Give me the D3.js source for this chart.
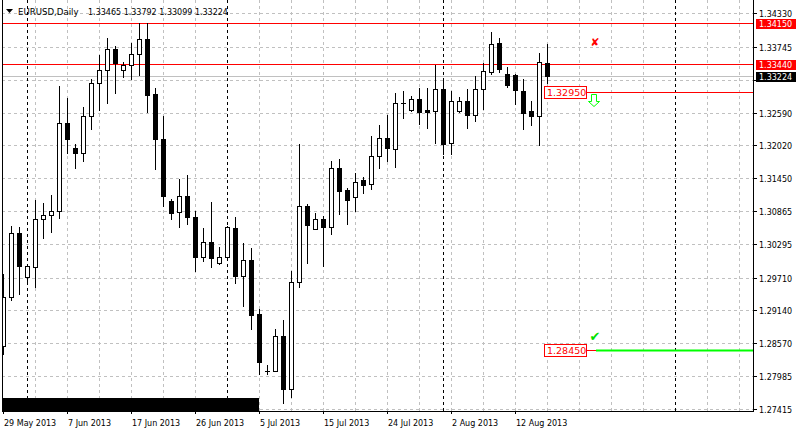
<!DOCTYPE html>
<html><head><meta charset="utf-8">
<script src="https://cdn.jsdelivr.net/npm/d3@7"></script>
<style>body{margin:0;background:#fff}svg{display:block}text{font-family:"DejaVu Sans",sans-serif}</style>
</head><body><svg id="c" width="796" height="430"></svg>
<script>
// ---------- data ----------
const symbolTitle = "EURUSD,Daily";
const lastBarInfo = ["1.33465", "1.33792", "1.33099", "1.33224"];
const dates = ["2013-05-29","2013-05-30","2013-05-31","2013-06-02","2013-06-03","2013-06-04","2013-06-05","2013-06-06","2013-06-07","2013-06-09",
"2013-06-10","2013-06-11","2013-06-12","2013-06-13","2013-06-14","2013-06-16","2013-06-17","2013-06-18","2013-06-19","2013-06-20",
"2013-06-21","2013-06-23","2013-06-24","2013-06-25","2013-06-26","2013-06-27","2013-06-28","2013-06-30","2013-07-01","2013-07-02",
"2013-07-03","2013-07-04","2013-07-05","2013-07-07","2013-07-08","2013-07-09","2013-07-10","2013-07-11","2013-07-12","2013-07-14",
"2013-07-15","2013-07-16","2013-07-17","2013-07-18","2013-07-19","2013-07-21","2013-07-22","2013-07-23","2013-07-24","2013-07-25",
"2013-07-26","2013-07-28","2013-07-29","2013-07-30","2013-07-31","2013-08-01","2013-08-02","2013-08-04","2013-08-05","2013-08-06",
"2013-08-07","2013-08-08","2013-08-09","2013-08-11","2013-08-12","2013-08-13","2013-08-14","2013-08-15","2013-08-16"];
const open = [1.28515,1.29371,1.30488,1.29720,1.29895,1.30733,1.30803,1.30873,1.32409,1.31973,
1.31885,1.32531,1.33108,1.33335,1.33701,1.33335,1.33422,1.33614,1.33876,1.32916,
1.32130,1.31047,1.30855,1.31134,1.30768,1.30069,1.30331,1.29965,1.30069,1.30576,
1.29738,1.30017,1.29074,1.28080,1.28079,1.28690,1.27764,1.29633,1.30960,1.30558,
1.30733,1.30593,1.31623,1.31239,1.31117,1.31414,1.31344,1.31833,1.32147,1.31955,
1.32755,1.32636,1.32828,1.32636,1.32619,1.33003,1.32060,1.32619,1.32793,1.32549,
1.33003,1.33300,1.33806,1.33265,1.33247,1.32968,1.32619,1.32531,1.33465];
const high = [1.29772,1.30611,1.30593,1.29947,1.31065,1.31012,1.31152,1.33055,1.32846,1.32042,
1.32689,1.33178,1.33597,1.33893,1.33754,1.33474,1.33806,1.34155,1.34150,1.33020,
1.32531,1.31082,1.31431,1.31501,1.30873,1.30576,1.31030,1.30244,1.30611,1.30768,
1.30314,1.30226,1.29161,1.28183,1.28812,1.28969,1.29825,1.32042,1.30995,1.30838,
1.30785,1.31746,1.31781,1.31274,1.31536,1.31466,1.32182,1.32374,1.32549,1.32933,
1.32968,1.32881,1.33020,1.33020,1.33422,1.33143,1.32968,1.32863,1.33003,1.33230,
1.33457,1.33998,1.33893,1.33387,1.33265,1.33178,1.32793,1.33632,1.33792];
const low = [1.28376,1.29318,1.29423,1.29633,1.29545,1.30401,1.30506,1.30750,1.31885,1.31623,
1.31746,1.32304,1.32636,1.32758,1.32933,1.33212,1.33178,1.33247,1.32601,1.31606,
1.30960,1.30733,1.30593,1.30646,1.29825,1.29999,1.29895,1.29947,1.30052,1.29615,
1.29214,1.28812,1.28026,1.28026,1.28070,1.27520,1.27625,1.29545,1.29965,1.30550,
1.29912,1.30471,1.30820,1.30646,1.30873,1.31187,1.31257,1.31623,1.31746,1.31641,
1.32497,1.32619,1.32392,1.32322,1.32060,1.31868,1.31868,1.32601,1.32322,1.32444,
1.32654,1.33265,1.33300,1.33038,1.32741,1.32304,1.32374,1.32025,1.33099];
const close = [1.29371,1.30488,1.29912,1.29912,1.30733,1.30803,1.30873,1.32409,1.32130,1.31885,
1.32531,1.33108,1.33335,1.33701,1.33457,1.33422,1.33614,1.33876,1.32898,1.32130,
1.31134,1.30838,1.31134,1.30768,1.30069,1.30331,1.30052,1.30069,1.30593,1.29738,
1.30017,1.29057,1.28236,1.28078,1.28690,1.27764,1.29633,1.30960,1.30628,1.30733,
1.30593,1.31623,1.31222,1.31065,1.31379,1.31327,1.31833,1.32147,1.31973,1.32758,
1.32760,1.32828,1.32601,1.32601,1.33003,1.32042,1.32793,1.32793,1.32549,1.33003,
1.33317,1.33789,1.33352,1.33073,1.32985,1.32584,1.32531,1.33474,1.33224];
const priceTicks = [1.34330,1.33745,1.33160,1.32590,1.32020,1.31450,1.30865,1.30295,1.29710,1.29140,1.28570,1.27985,1.27415];
const timeTickIdx = [0,8,16,24,32,40,48,56,64];
const timeTickLabels = ["29 May 2013","7 Jun 2013","17 Jun 2013","26 Jun 2013","5 Jul 2013","15 Jul 2013","24 Jul 2013","2 Aug 2013","12 Aug 2013"];
const monthSepIdx = [3,28,55,84];
const redLevels = [1.34150, 1.33440];
const bidPrice = 1.33224;
const takeProfit1 = 1.32950;
const takeProfit2 = 1.28450;
const blackBandIdx = [0, 32];

// ---------- scales ----------
const L = 2, R = 753, B = 411;
const x = d3.scaleLinear().domain([0, 84]).range([3, 675]);
const y = d3.scaleLinear().domain([1.27415, 1.34330]).range([409, 13]);
const px = v => Math.round(v) + 0.5;
const fmt = d3.format(".5f");

const svg = d3.select("#c");
svg.append("defs").append("clipPath").attr("id","plot").append("rect")
  .attr("x", L+1).attr("y", 0).attr("width", R-L-1).attr("height", B);

const plot = svg.append("g").attr("clip-path","url(#plot)");

// grid
const gridIdx = d3.range(4, 94, 4);
plot.append("g").selectAll("line").data(gridIdx).join("line")
  .attr("x1", d => px(x(d))).attr("x2", d => px(x(d)))
  .attr("y1", 0).attr("y2", B)
  .attr("stroke", "#c0c0c0").attr("stroke-dasharray", "3,3");
plot.append("g").selectAll("line").data(priceTicks).join("line")
  .attr("x1", L).attr("x2", R)
  .attr("y1", d => px(y(d))).attr("y2", d => px(y(d)))
  .attr("stroke", "#c0c0c0").attr("stroke-dasharray", "3,3");
// month separators
plot.append("g").selectAll("line").data(monthSepIdx).join("line")
  .attr("x1", d => px(x(d))).attr("x2", d => px(x(d)))
  .attr("y1", 0).attr("y2", B)
  .attr("stroke", "#000").attr("stroke-dasharray", "3,3");

// black band at bottom
plot.append("rect")
  .attr("x", x(blackBandIdx[0])).attr("width", x(blackBandIdx[1]) - x(blackBandIdx[0]))
  .attr("y", 398).attr("height", B - 398).attr("fill", "#000");

// levels
plot.append("g").selectAll("line").data(redLevels).join("line")
  .attr("x1", L).attr("x2", R)
  .attr("y1", d => px(y(d))).attr("y2", d => px(y(d)))
  .attr("stroke", "#ff0000");
plot.append("line").attr("x1", L).attr("x2", R)
  .attr("y1", px(y(bidPrice))).attr("y2", px(y(bidPrice))).attr("stroke", "#c0c0c0");

// candles
const bars = d3.range(open.length).map(i => ({i, o: open[i], h: high[i], l: low[i], c: close[i], d: dates[i]}));
const cg = plot.append("g");
bars.forEach(b => {
  const cx = Math.round(x(b.i));
  cg.append("line").attr("x1", cx+0.5).attr("x2", cx+0.5)
    .attr("y1", Math.round(y(b.h))).attr("y2", Math.round(y(b.l))+1)
    .attr("stroke", "#000");
  const yt = Math.round(y(Math.max(b.o, b.c))), yb = Math.round(y(Math.min(b.o, b.c)));
  if (yb - yt < 1) {
    cg.append("line").attr("x1", cx-2).attr("x2", cx+3)
      .attr("y1", yt+0.5).attr("y2", yt+0.5).attr("stroke", "#000");
  } else {
    cg.append("rect").attr("x", cx-1.5).attr("y", yt+0.5)
      .attr("width", 4).attr("height", yb-yt)
      .attr("fill", b.c >= b.o ? "#fff" : "#000").attr("stroke", "#000");
  }
});

// take-profit objects
const tp1y = Math.round(y(takeProfit1)), tp2y = Math.round(y(takeProfit2));
const boxR = 586, boxW = 42;
plot.append("line").attr("x1", boxR).attr("x2", R).attr("y1", tp1y+0.5).attr("y2", tp1y+0.5).attr("stroke", "#ff0000");
plot.append("line").attr("x1", boxR).attr("x2", 596).attr("y1", tp2y+0.5).attr("y2", tp2y+0.5).attr("stroke", "#ff0000");
plot.append("line").attr("x1", 596).attr("x2", R).attr("y1", tp2y+0.5).attr("y2", tp2y+0.5).attr("stroke", "#00ff00").attr("stroke-width", 2);
[[takeProfit1, tp1y],[takeProfit2, tp2y]].forEach(([v, yy]) => {
  plot.append("rect").attr("x", boxR-boxW+0.5).attr("y", yy-5.5).attr("width", boxW).attr("height", 12)
    .attr("fill", "#fff").attr("stroke", "#ff0000");
  plot.append("text").attr("x", boxR-boxW+3).attr("y", yy+4).attr("fill", "#ff0000")
    .attr("font-size", "9.5px").text(fmt(v));
});
// markers
plot.append("text").attr("x", 595).attr("y", 46).attr("text-anchor","middle")
  .attr("fill", "#ff0000").attr("font-size", "11px").text("\u2718");
plot.append("path")
  .attr("d", `M591.5,${tp1y+2.5} H596.5 V${tp1y+9.5} H599.5 L594,${tp1y+14.5} L588.5,${tp1y+9.5} H591.5 Z`)
  .attr("fill", "none").attr("stroke", "#00ff00");
plot.append("text").attr("x", 595).attr("y", tp2y-9).attr("text-anchor","middle")
  .attr("fill", "#00e000").attr("font-size", "13px").text("\u2714");

// frame
svg.append("line").attr("x1", L+0.5).attr("x2", L+0.5).attr("y1", 0).attr("y2", B+1).attr("stroke", "#000");
svg.append("line").attr("x1", R+0.5).attr("x2", R+0.5).attr("y1", 0).attr("y2", B+1).attr("stroke", "#000");
svg.append("line").attr("x1", L).attr("x2", R+1).attr("y1", B+0.5).attr("y2", B+0.5).attr("stroke", "#000");

// right axis
const tagged = [[redLevels[0], "#ff0000"], [redLevels[1], "#ff0000"], [bidPrice, "#000"]];
const ra = svg.append("g");
priceTicks.forEach(v => {
  const yy = Math.round(y(v));
  ra.append("line").attr("x1", R).attr("x2", R+4).attr("y1", yy+0.5).attr("y2", yy+0.5).attr("stroke", "#000");
  const hidden = tagged.some(([t]) => Math.abs(Math.round(y(t)) - yy) < 9);
  if (!hidden) ra.append("text").attr("x", 759).attr("y", yy+4).attr("font-size", "8px").attr("fill", "#000").text(fmt(v));
});
tagged.forEach(([v, col]) => {
  const yy = Math.round(y(v));
  ra.append("rect").attr("x", 756).attr("y", yy-4).attr("width", 40).attr("height", 10).attr("fill", col);
  ra.append("text").attr("x", 759).attr("y", yy+4).attr("font-size", "8px").attr("fill", "#fff").text(fmt(v));
});

// bottom axis
const ba = svg.append("g");
timeTickIdx.forEach((idx, k) => {
  const xx = Math.round(x(idx));
  ba.append("line").attr("x1", xx+0.5).attr("x2", xx+0.5).attr("y1", B).attr("y2", B+3).attr("stroke", "#000");
  ba.append("text").attr("x", xx+1).attr("y", 426).attr("font-size", "8px").attr("fill", "#000").text(timeTickLabels[k]);
});

// header
svg.append("path").attr("d", "M6,9 L13,9 L9.5,13 Z").attr("fill", "#000");
svg.append("text").attr("x", 18).attr("y", 15).attr("font-size", "8.6px").attr("fill", "#000").text(symbolTitle);
svg.append("text").attr("x", 88).attr("y", 15).attr("font-size", "8px").attr("fill", "#000").text(lastBarInfo.join(" "));
</script></body></html>
